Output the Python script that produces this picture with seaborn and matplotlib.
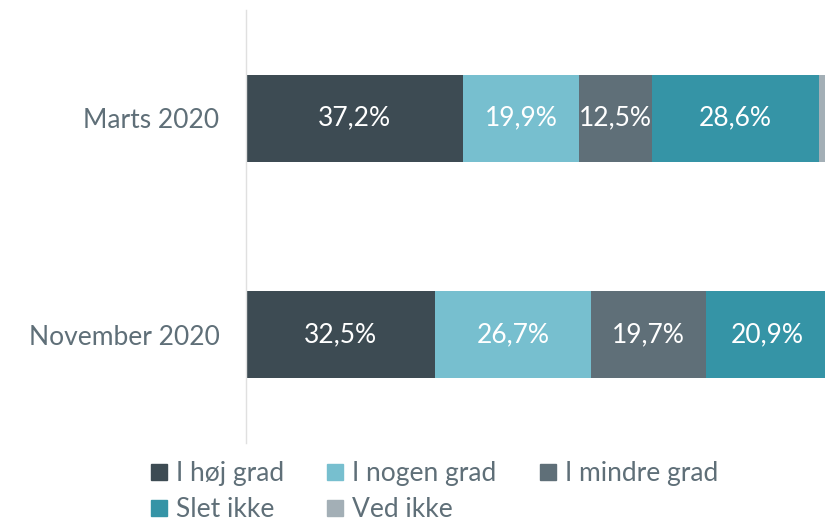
import numpy as np
import pandas as pd
import seaborn as sns
import matplotlib.pyplot as plt
from matplotlib.lines import Line2D

periods = ["Marts 2020", "November 2020"]
categories = ["I høj grad", "I nogen grad", "I mindre grad", "Slet ikke", "Ved ikke"]
hoej = [37.2, 32.5]
nogen = [19.9, 26.7]
mindre = [12.5, 19.7]
slet = [28.6, 20.9]
ved = [1.8, 0.2]
colors = ["#3d4b53", "#77bfcf", "#5f6f78", "#3594a6", "#a3afb6"]
text_col = "#5f6f78"

sns.set_style("white")
plt.rcParams["font.family"] = ["Lato", "DejaVu Sans"]

values = np.array([hoej, nogen, mindre, slet, ved])
cum = values.cumsum(axis=0)

fig = plt.figure(figsize=(8.25, 5.25), dpi=100)
ax = fig.add_axes([246 / 825, 1 - 443 / 525, 583 / 825, 433 / 525])

# stacked bars: draw cumulative totals from the outside in
for i in range(len(categories) - 1, -1, -1):
    df = pd.DataFrame({"period": periods, "total": cum[i]})
    sns.barplot(data=df, x="total", y="period", orient="h", color=colors[i],
                width=0.4, ax=ax, saturation=1, linewidth=0)

for i in range(4):
    for j in range(len(periods)):
        start = cum[i, j] - values[i, j]
        ax.text(start + values[i, j] / 2, j, f"{values[i, j]:.1f}%".replace(".", ","),
                ha="center", va="center", color="white", fontsize=19)

ax.set_xlim(0, 100)
ax.set_ylim(1.5, -0.5)
ax.set_xlabel("")
ax.set_ylabel("")
ax.set_xticks([])
ax.tick_params(axis="y", length=0, pad=19, labelsize=19, labelcolor=text_col)
for s in ["top", "right", "bottom"]:
    ax.spines[s].set_visible(False)
ax.spines["left"].set_color("#e0e0e0")
ax.spines["left"].set_linewidth(1)

# row-wise legend order for 3 columns
order = [0, 3, 1, 4, 2]
handles = [Line2D([], [], marker="s", linestyle="", markersize=12, color=colors[k]) for k in order]
labels = [categories[k] for k in order]
fig.legend(handles, labels, ncol=3, loc="upper left", bbox_to_anchor=(0.165, 0.142),
           frameon=False, labelcolor=text_col, handletextpad=0.2,
           columnspacing=1.5, handlelength=0.9, labelspacing=0.42, borderaxespad=0,
           prop={"size": 19})

fig.savefig("out.png", dpi=100)
